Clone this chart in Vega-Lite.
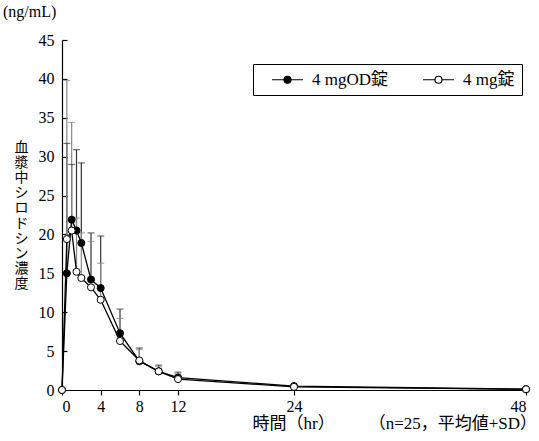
{
  "$schema": "https://vega.github.io/schema/vega-lite/v6.json",
  "autosize": "none",
  "width": 464,
  "height": 350,
  "padding": {"left": 62, "top": 40, "right": 13, "bottom": 51},
  "background": "white",
  "config": {
    "font": "Liberation Serif, Noto Sans CJK JP",
    "view": {"stroke": null},
    "axis": {"grid": false, "domainColor": "#000", "tickColor": "#000", "labelColor": "#000", "titleColor": "#000", "labelFont": "Liberation Serif", "labelFontSize": 16, "titleFont": "Liberation Serif, Noto Sans CJK JP", "titleFontWeight": "normal", "titleFontSize": 14, "domainWidth": 1.2, "tickWidth": 1.2},
    "legend": {"symbolType": "M-2,0L-0.452,0M0.452,0L2,0M0.452,0A0.452,0.452 0 1,1 -0.452,0A0.452,0.452 0 1,1 0.452,0"}
  },
  "title": {"text": "(ng/mL)", "anchor": "start", "frame": "group", "dx": -59, "offset": 12, "fontSize": 16, "fontWeight": "normal", "font": "Liberation Serif", "color": "#000"},
  "data": {
    "values": [
      {"t": 0, "s": "4 mgOD錠", "m": 0, "u": null},
      {"t": 0.5, "s": "4 mgOD錠", "m": 15.0, "u": 31.7},
      {"t": 1, "s": "4 mgOD錠", "m": 21.9, "u": 29.0},
      {"t": 1.5, "s": "4 mgOD錠", "m": 20.5, "u": 30.9},
      {"t": 2, "s": "4 mgOD錠", "m": 18.9, "u": 29.2},
      {"t": 3, "s": "4 mgOD錠", "m": 14.2, "u": 20.2},
      {"t": 4, "s": "4 mgOD錠", "m": 13.1, "u": 19.8},
      {"t": 6, "s": "4 mgOD錠", "m": 7.3, "u": 10.4},
      {"t": 8, "s": "4 mgOD錠", "m": 3.7, "u": 5.4},
      {"t": 10, "s": "4 mgOD錠", "m": 2.4, "u": 3.2},
      {"t": 12, "s": "4 mgOD錠", "m": 1.6, "u": 2.3},
      {"t": 24, "s": "4 mgOD錠", "m": 0.5, "u": null},
      {"t": 48, "s": "4 mgOD錠", "m": 0.1, "u": null},
      {"t": 0, "s": "4 mg錠", "m": 0, "u": null},
      {"t": 0.5, "s": "4 mg錠", "m": 19.4, "u": 39.8},
      {"t": 1, "s": "4 mg錠", "m": 20.5, "u": 34.4},
      {"t": 1.5, "s": "4 mg錠", "m": 15.2, "u": 22.1},
      {"t": 2, "s": "4 mg錠", "m": 14.4, "u": 20.2},
      {"t": 3, "s": "4 mg錠", "m": 13.2, "u": 19.1},
      {"t": 4, "s": "4 mg錠", "m": 11.6, "u": 16.3},
      {"t": 6, "s": "4 mg錠", "m": 6.3, "u": 9.2},
      {"t": 8, "s": "4 mg錠", "m": 3.8, "u": 5.2},
      {"t": 10, "s": "4 mg錠", "m": 2.4, "u": 3.0},
      {"t": 12, "s": "4 mg錠", "m": 1.4, "u": 2.1},
      {"t": 24, "s": "4 mg錠", "m": 0.4, "u": null},
      {"t": 48, "s": "4 mg錠", "m": 0.1, "u": null}
    ]
  },
  "encoding": {
    "x": {"field": "t", "type": "quantitative", "scale": {"domain": [0, 48], "nice": false},
      "axis": {"values": [0, 4, 8, 12, 24, 48], "tickSize": 5, "labelPadding": 3, "labelAngle": 0,
        "title": "時間（hr）　　　（n=25，平均値+SD）", "titleFontSize": 17, "titleAnchor": "start", "titleAlign": "left", "titleX": 190, "titleY": 33, "titleBaseline": "middle"}},
    "y": {"field": "m", "type": "quantitative", "scale": {"domain": [0, 45], "nice": false},
      "axis": {"values": [0, 5, 10, 15, 20, 25, 30, 35, 40, 45], "tickSize": -5, "labelPadding": 13,
        "title": ["血", "漿", "中", "シ", "ロ", "ド", "シ", "ン", "濃", "度"], "titleAngle": 0, "titleX": -41, "titleY": 100, "titleAlign": "center", "titleBaseline": "top", "titleLineHeight": 15.2}}
  },
  "layer": [
    {
      "transform": [{"filter": "datum.u != null"}],
      "mark": {"type": "rule", "strokeWidth": 1.2},
      "encoding": {
        "y2": {"field": "u"},
        "color": {"condition": {"test": "datum.s === '4 mgOD錠'", "value": "#333333"}, "value": "#888888"}
      }
    },
    {
      "transform": [{"filter": "datum.u != null"}],
      "mark": {"type": "tick", "orient": "horizontal", "size": 7, "thickness": 1.2},
      "encoding": {
        "y": {"field": "u", "type": "quantitative"},
        "color": {"condition": {"test": "datum.s === '4 mgOD錠'", "value": "#333333"}, "value": "#888888"}
      }
    },
    {
      "mark": {"type": "line", "color": "#000", "strokeWidth": 1.3},
      "encoding": {"detail": {"field": "s", "type": "nominal"}}
    },
    {
      "mark": {"type": "point", "filled": true, "stroke": "#000", "strokeWidth": 1, "size": 50, "opacity": 1},
      "encoding": {
        "fill": {"field": "s", "type": "nominal", "scale": {"domain": ["4 mgOD錠", "4 mg錠"], "range": ["#000000", "#ffffff"]},
          "legend": {"title": null, "orient": "none", "legendX": 191, "legendY": 24, "direction": "horizontal",
            "strokeColor": "#000", "padding": 7,
            "symbolSize": 240, "symbolStrokeColor": "#000", "symbolStrokeWidth": 1.2, "symbolOpacity": 1, "symbolOffset": 19,
            "labelFont": "Liberation Serif, Noto Sans CJK JP", "labelFontSize": 17, "labelColor": "#000", "labelOffset": 16, "columnPadding": 22}
        }
      }
    }
  ]
}
